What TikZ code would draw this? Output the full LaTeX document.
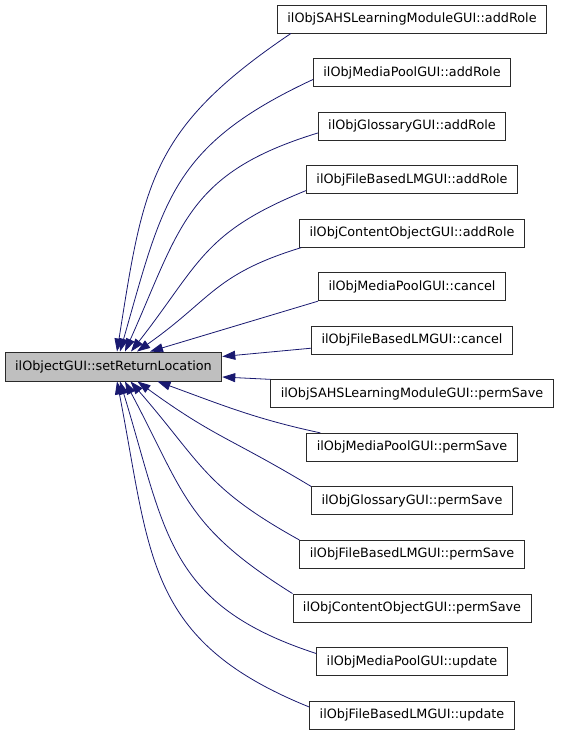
\documentclass[tikz,border=0pt]{standalone}
\usepackage{fontspec}
\setmainfont{DejaVu Sans}
\usepackage{tikz}
\usetikzlibrary{arrows.meta,positioning,calc}

\definecolor{edgeblue}{HTML}{191970}
\definecolor{boxgrey}{HTML}{BFBFBF}
\definecolor{boxline}{HTML}{2A2A2A}

\begin{document}
\begin{tikzpicture}[x=1pt,y=1pt,>={Triangle[length=13pt,width=9pt]},
    func/.style={draw=boxline,line width=0.9pt,minimum height=28pt,inner xsep=10pt,
      font=\fontsize{12.8}{15}\selectfont},
    call/.style={draw=edgeblue,<-,line width=0.8pt},
    bowed/.style={looseness=1.2}]
      \useasboundingbox (0,0) rectangle (560,-733);

      \node[func,fill=boxgrey,minimum height=29pt] (main) at (113.5,-366.5) {ilObjectGUI::setReturnLocation};

      \node[func] (r1) at (412,-19) {ilObjSAHSLearningModuleGUI::addRole};
      \node[func] (r2) at (412,-72.5) {ilObjMediaPoolGUI::addRole};
      \node[func] (r3) at (412,-126) {ilObjGlossaryGUI::addRole};
      \node[func] (r4) at (412,-179.6) {ilObjFileBasedLMGUI::addRole};
      \node[func] (r5) at (412,-233.2) {ilObjContentObjectGUI::addRole};
      \node[func] (r6) at (412,-286.7) {ilObjMediaPoolGUI::cancel};
      \node[func] (r7) at (412,-340.2) {ilObjFileBasedLMGUI::cancel};
      \node[func] (r8) at (412,-393.8) {ilObjSAHSLearningModuleGUI::permSave};
      \node[func] (r9) at (412,-447.3) {ilObjMediaPoolGUI::permSave};
      \node[func] (r10) at (412,-500.9) {ilObjGlossaryGUI::permSave};
      \node[func] (r11) at (412,-554.4) {ilObjFileBasedLMGUI::permSave};
      \node[func] (r12) at (412,-608) {ilObjContentObjectGUI::permSave};
      \node[func] (r13) at (412,-661.5) {ilObjMediaPoolGUI::update};
      \node[func] (r14) at (412,-715) {ilObjFileBasedLMGUI::update};

      % callers above
      \path[every edge/.style=call]
      ([xshift=3.5pt]main.north) edge[bowed,out=81,in=214] ([xshift=14pt]r1.south west)
      ([xshift=6.5pt]main.north) edge[bowed,out=74,in=205] ([yshift=-7pt]r2.west)
      ([xshift=11.5pt]main.north) edge[bowed,out=66,in=197] ([yshift=-7pt]r3.west)
      ([xshift=17.5pt]main.north) edge[bowed,out=52,in=202] ([yshift=-11pt]r4.west)
      ([xshift=23.5pt]main.north) edge[bowed,out=35,in=197] ([xshift=2pt]r5.south west)
      ([xshift=36.5pt]main.north) edge (r6.south west)
      ([yshift=10pt]main.east) edge ([yshift=-8pt]r7.west)

      % callers below
      ([yshift=-10.5pt]main.east) edge (r8.north west)
      ([xshift=44pt]main.south) edge[out=-20,in=168] ([xshift=14pt]r9.north west)
      ([xshift=24pt]main.south) edge[bowed,out=-36,in=149] (r10.north west)
      ([xshift=17pt]main.south) edge[bowed,out=-49,in=151] (r11.north west)
      ([xshift=11.5pt]main.south) edge[bowed,out=-62,in=148] (r12.north west)
      ([xshift=6.5pt]main.south) edge[bowed,out=-73,in=162] ([yshift=8pt]r13.west)
      ([xshift=3.5pt]main.south) edge[bowed,out=-79,in=158] ([yshift=8pt]r14.west);

  \end{tikzpicture}
\end{document}
